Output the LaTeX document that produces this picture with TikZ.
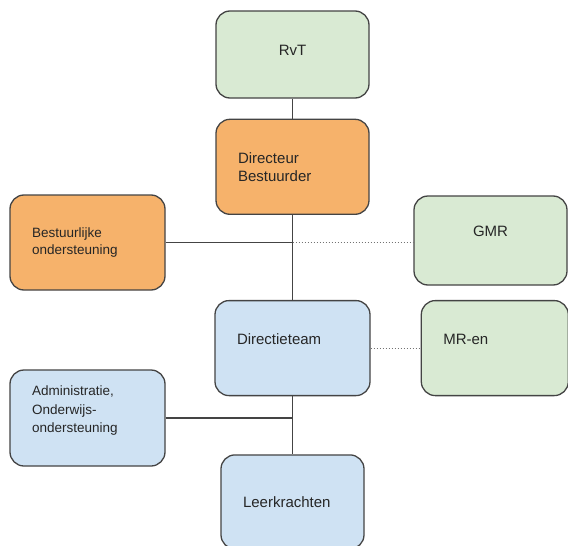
\documentclass[tikz,border=0pt]{standalone}
\usepackage{fontspec}
\setmainfont{Liberation Sans}
\usetikzlibrary{positioning}
\definecolor{boxgreen}{HTML}{D9EAD3}
\definecolor{boxorange}{HTML}{F6B26B}
\definecolor{boxblue}{HTML}{CFE2F3}
\definecolor{edgegray}{HTML}{444444}
\begin{document}
\begin{tikzpicture}[x=1pt, y=-1pt,
    unit/.style={draw=edgegray, line width=1.3pt, rounded corners=14pt,
        minimum height=95pt, inner xsep=22pt, text=black!85,
        font=\fontsize{15}{18}\selectfont},
    green/.style={unit, fill=boxgreen},
    orange/.style={unit, fill=boxorange},
    blue/.style={unit, fill=boxblue},
    lefttext/.style={text width=#1, align=left},
    small/.style={font=\fontsize{13.5}{17.5}\selectfont},
    link/.style={draw=edgegray, line width=1.3pt},
    dotlink/.style={draw=black!55, line width=1pt, dash pattern=on 1.5pt off 1.5pt}]
\useasboundingbox (0,0) rectangle (568,546);

\node [green, minimum width=153pt, minimum height=87pt, text depth=9pt] (rvt) at (292.5,54.5) {RvT};
\node [orange, minimum width=153pt, lefttext=109pt, below=20pt of rvt] (dir) {Directeur\\Bestuurder};
\node [blue, minimum width=155pt, lefttext=111pt, text depth=18pt, below=85pt of dir] (team) {Directieteam};
\node [blue, minimum width=141pt, minimum height=94pt, lefttext=99pt, below=58pt of team] (leer) {Leerkrachten};
\node [orange, small, minimum width=155pt, lefttext=111pt] (best) at (87.5,242.5) {Bestuurlijke\\ondersteuning};
\node [green, minimum width=153pt, minimum height=89pt, text depth=18pt] (gmr) at (490.5,240.5) {GMR};
\node [green, minimum width=147pt, lefttext=103pt, text depth=18pt, right=50pt of team] (mr) {MR-en};
\node [blue, font=\fontsize{13.5}{18.5}\selectfont, minimum width=155pt, minimum height=96pt, lefttext=111pt, text depth=54pt] (adm) at (87.5,418) {Administratie,\\Onderwijs-\\ondersteuning};

\coordinate (bestj) at (best.east -| dir.south);
\coordinate (admj) at (adm.east -| team.south);

\draw [link] (rvt) -- (dir);
\draw [link] (dir) -- (team);
\draw [link] (team) -- (leer);
\draw [link] (best) -- (bestj);
\draw [link] (adm) -- (admj);
\draw [dotlink] (bestj) -- (bestj -| gmr.west);
\draw [dotlink] (team) -- (mr);
\end{tikzpicture}
\end{document}
